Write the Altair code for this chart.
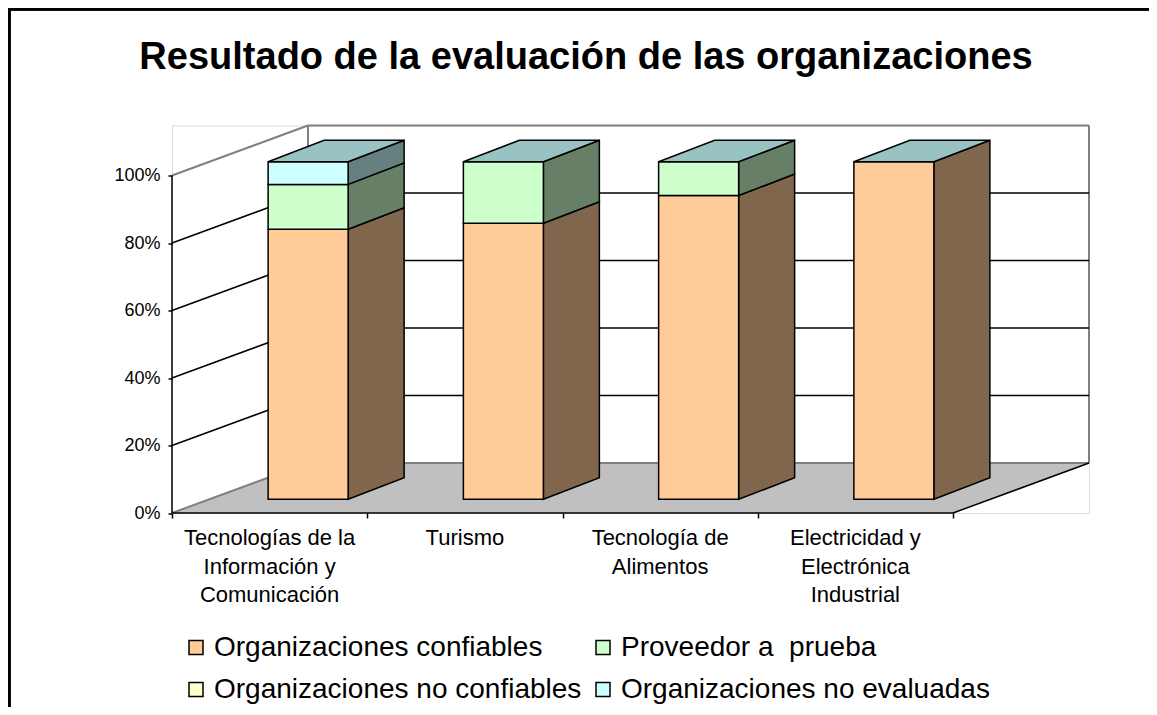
import altair as alt
import pandas as pd

# ---------------- data ----------------
categorias = [
    "Tecnologías de la Información y Comunicación",
    "Turismo",
    "Tecnología de Alimentos",
    "Electricidad y Electrónica Industrial",
]
etiquetas = [
    "Tecnologías de la\nInformación y\nComunicación",
    "Turismo",
    "Tecnología de\nAlimentos",
    "Electricidad y\nElectrónica\nIndustrial",
]
series = [
    "Organizaciones confiables",
    "Proveedor a\u00a0 prueba",
    "Organizaciones no confiables",
    "Organizaciones no evaluadas",
]
confiables = [80.0, 81.8, 90.0, 100.0]
proveedor = [13.3, 18.2, 10.0, 0.0]
no_confiables = [0.0, 0.0, 0.0, 0.0]
no_evaluadas = [6.7, 0.0, 0.0, 0.0]
ticks_y = [0, 20, 40, 60, 80, 100]
ticks_x = [0, 1, 2, 3, 4]

# ---------------- style ----------------
colores_frente = ["#FFCC99", "#CCFFCC", "#FFFFCC", "#CCFFFF"]
colores_lado = ["#7F664C", "#667F66", "#7F7F66", "#667F7F"]
color_tope = "#99C2C2"
FONT = "Liberation Sans"

# 3D projection (in data units: category units on x, percent on y)
PXU = 781 / 4.0          # pixels per category
PXP = 3.375              # pixels per percent
DX, DY = 136 / PXU, 50 / PXP          # full depth of the box
SX, SY = 38.5 / PXU, 13.7 / PXP       # bar front-face depth shift
BX, BY = 56 / PXU, 21.5 / PXP         # bar depth
HW = 40 / PXU                         # half bar width
W, H = 917, 387.5
NCAT = len(categorias)

valores = [confiables, proveedor, no_confiables, no_evaluadas]

front_rows, side_rows, top_rows = [], [], []
for i, cat in enumerate(categorias):
    xl = i + 0.5 - HW + SX
    xr = i + 0.5 + HW + SX
    base = 0.0
    for s, serie in enumerate(series):
        v = valores[s][i]
        if v <= 0:
            continue
        a, b = base + SY, base + v + SY
        front_rows.append(dict(cat=cat, serie=serie, x=xl, x2=xr, y=a, y2=b))
        cid = f"{i}-{s}"
        side_rows.append(dict(cara=cid, tono=colores_lado[s], x=xr, y=a, y2=b))
        side_rows.append(dict(cara=cid, tono=colores_lado[s], x=xr + BX, y=a + BY, y2=b + BY))
        base += v
    T = base + SY
    for (x, y, y2) in [(xl, T, T), (xl + BX, T, T + BY), (xr, T, T + BY), (xr + BX, T + BY, T + BY)]:
        top_rows.append(dict(barra=cat, x=x, y=y, y2=y2))

df_front = pd.DataFrame(front_rows)
df_side = pd.DataFrame(side_rows)
df_top = pd.DataFrame(top_rows)

df_floor = pd.DataFrame(dict(
    x=[0, DX, NCAT, NCAT + DX],
    y=[0, 0, 0, DY],
    y2=[0, DY, DY, DY],
))

black_lines = [(0, 0, 0, 100), (0, 0, NCAT, 0), (NCAT, 0, NCAT + DX, DY)]
for t in ticks_y[1:-1]:
    black_lines.append((0, t, DX, t + DY))
    black_lines.append((DX, t + DY, NCAT + DX, t + DY))
gray_lines = [
    (0, 0, DX, DY), (DX, DY, NCAT + DX, DY),
    (0, 100, DX, 100 + DY), (DX, 100 + DY, NCAT + DX, 100 + DY),
    (DX, DY, DX, 100 + DY), (NCAT + DX, DY, NCAT + DX, 100 + DY),
]
cols = ["x", "y", "x2", "y2"]
df_black = pd.DataFrame(black_lines, columns=cols)
df_gray = pd.DataFrame(gray_lines, columns=cols)

df_lab = pd.DataFrame(dict(x=[i + 0.5 for i in range(NCAT)], etiqueta=etiquetas))

xs = alt.Scale(domain=[0, NCAT + DX], nice=False, zero=False)
ys = alt.Scale(domain=[0, 100 + DY], nice=False, zero=False)

x_axis = alt.Axis(values=ticks_x, labels=False, ticks=True, tickSize=5, tickColor="black",
                  tickWidth=1.5, domain=False, grid=False, title=None)
y_axis = alt.Axis(values=ticks_y, labelExpr="datum.value + '%'", tickSize=4, tickColor="black",
                  tickWidth=1.5, domain=False, grid=False, title=None, labelFontSize=18,
                  labelFont=FONT, labelColor="black", labelPadding=8)

X = lambda f="x:Q": alt.X(f, scale=xs, axis=x_axis)
Y = lambda f="y:Q": alt.Y(f, scale=ys, axis=y_axis)

floor = alt.Chart(df_floor).mark_area(fill="#C0C0C0").encode(
    x=X(), y=Y(), y2="y2:Q",
)

def rules(df, color, w):
    return alt.Chart(df).mark_rule(color=color, strokeWidth=w).encode(
        x=X(), y=Y(), x2="x2:Q", y2="y2:Q",
    )

gray = rules(df_gray, "#808080", 2)
black = rules(df_black, "black", 1.5)

sides = alt.Chart(df_side).mark_area(stroke="black", strokeWidth=1.5).encode(
    x=X(), y=Y(), y2="y2:Q",
    fill=alt.Fill("tono:N", scale=None),
    detail="cara:N",
)

fronts = alt.Chart(df_front).mark_rect(stroke="black", strokeWidth=1.5).encode(
    x=X(), x2="x2:Q", y=Y(), y2="y2:Q",
    color=alt.Color(
        "serie:N",
        scale=alt.Scale(domain=series, range=colores_frente),
        legend=alt.Legend(
            orient="none", legendX=10, legendY=508, columns=2, direction="horizontal",
            symbolType="square", symbolSize=196, symbolStrokeColor="black",
            symbolStrokeWidth=1.5, labelFontSize=28, labelFont=FONT, labelColor="black",
            labelOffset=4, columnPadding=7, rowPadding=14, title=None, padding=0,
            labelLimit=600,
        ),
    ),
)

tops = alt.Chart(df_top).mark_area(fill=color_tope, stroke="black", strokeWidth=1.5).encode(
    x=X(), y=Y(), y2="y2:Q",
    detail="barra:N",
)

labels = alt.Chart(df_lab).mark_text(
    lineBreak="\n", font=FONT, fontSize=22, color="black", align="center",
    baseline="alphabetic", dy=32, lineHeight=28.5,
).encode(
    x=X(),
    y=alt.YDatum(0, scale=ys, axis=y_axis),
    text="etiqueta:N",
)

frame_top = alt.Chart(df_lab).mark_rule(color="black", strokeWidth=3).encode(
    x=alt.value(-165), x2=alt.value(990), y=alt.value(-116.5))
frame_left = alt.Chart(df_lab).mark_rule(color="black", strokeWidth=3).encode(
    x=alt.value(-163), y=alt.value(-116.5), y2=alt.value(590))

chart = alt.layer(
    floor, gray, black, sides, fronts, tops, labels, frame_top, frame_left
).properties(
    width=W, height=H,
    autosize=alt.AutoSizeParams(type="none"),
    padding={"left": 164, "top": 117.5, "right": 60, "bottom": 194},
    title=alt.TitleParams(
        "Resultado de la evaluación de las organizaciones",
        fontSize=38, fontWeight="bold", font=FONT, color="black",
        anchor="middle", frame="group", baseline="alphabetic", offset=-99.5, dx=-44.5,
    ),
).configure_view(stroke=None).configure(background="white")

chart.save("out.html", embed_options={"renderer": "svg", "actions": False})
